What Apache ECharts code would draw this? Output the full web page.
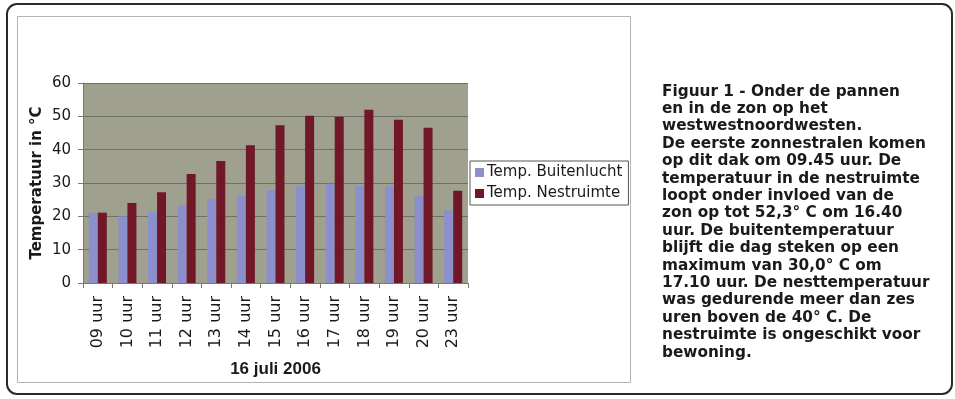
<!DOCTYPE html>
<html><head><meta charset="utf-8">
<script src="https://cdn.jsdelivr.net/npm/echarts@6/dist/echarts.min.js"></script>
<style>html,body{margin:0;padding:0;background:#fff}#c{width:955px;height:399px}</style>
</head><body><div id="c"></div>
<script>
const categories = ['09 uur','10 uur','11 uur','12 uur','13 uur','14 uur','15 uur','16 uur','17 uur','18 uur','19 uur','20 uur','23 uur'];
const buitenlucht = [21.1, 20.0, 21.4, 23.3, 25.3, 26.2, 27.8, 29.0, 29.8, 29.1, 29.0, 26.2, 21.8];
const nestruimte = [21.1, 24.0, 27.2, 32.7, 36.6, 41.3, 47.3, 50.2, 49.9, 52.0, 49.0, 46.6, 27.7];
const seriesNames = ['Temp. Buitenlucht', 'Temp. Nestruimte'];
const yTitle = 'Temperatuur in °C';
const xTitle = '16 juli 2006';
const noteLines = [
 'Figuur 1 - Onder de pannen',
 'en in de zon op het',
 'westwestnoordwesten.',
 'De eerste zonnestralen komen',
 'op dit dak om 09.45 uur. De',
 'temperatuur in de nestruimte',
 'loopt onder invloed van de',
 'zon op tot 52,3° C om 16.40',
 'uur. De buitentemperatuur',
 'blijft die dag steken op een',
 'maximum van 30,0° C om',
 '17.10 uur. De nesttemperatuur',
 'was gedurende meer dan zes',
 'uren boven de 40° C. De',
 'nestruimte is ongeschikt voor',
 'bewoning.'
];

const chart = echarts.init(document.getElementById('c'), null, {renderer:'canvas'});
const font = '"DejaVu Sans", sans-serif';
const fontL = '"Liberation Sans", Arial, sans-serif';
chart.setOption({
  animation:false,
  backgroundColor:'#fff',
  textStyle:{fontFamily:font},
  graphic:[
    {type:'rect', shape:{x:7,y:4,width:945,height:390,r:10}, style:{fill:'none',stroke:'#2a2a2a',lineWidth:2}, z:-1},
    {type:'rect', shape:{x:17.5,y:16.5,width:613,height:366}, style:{fill:'none',stroke:'#b5b5b0',lineWidth:1}, z:-1},
    {type:'text', left:662, top:83, style:{text:noteLines.join('\n'), font:'bold 15.3px "DejaVu Sans", sans-serif', lineHeight:17.4, fill:'#1a1a1a'}}
  ],
  grid:{left:83, top:83, width:385, height:200, show:true, backgroundColor:'#9fa18e', borderWidth:0},
  legend:{
    orient:'vertical', left:470, top:161,
    padding:[4,6,4,5], itemGap:6, itemWidth:9, itemHeight:9, icon:'rect',
    borderColor:'#555', borderWidth:1, backgroundColor:'#fff',
    textStyle:{fontSize:15, color:'#1a1a1a', fontFamily:font, padding:[0,0,0,-2]},
    data:seriesNames
  },
  xAxis:{
    type:'category', data:categories,
    name:xTitle, nameLocation:'middle', nameGap:78,
    nameTextStyle:{fontSize:17, fontWeight:'bold', color:'#1a1a1a', fontFamily:fontL},
    axisLine:{lineStyle:{color:'#777'}},
    axisTick:{show:true, length:5, lineStyle:{color:'#777'}},
    axisLabel:{rotate:90, fontSize:16, color:'#1a1a1a', margin:13}
  },
  yAxis:{
    type:'value', min:0, max:60, interval:10,
    name:yTitle, nameLocation:'middle', nameGap:38, nameRotate:90,
    nameTextStyle:{fontSize:15, fontWeight:'bold', color:'#1a1a1a'},
    axisLine:{show:true, lineStyle:{color:'#777'}},
    axisTick:{show:true, length:5, lineStyle:{color:'#777'}},
    axisLabel:{fontSize:15, color:'#1a1a1a', margin:12},
    splitLine:{show:true, lineStyle:{color:'#6f7262', width:1}}
  },
  series:[
    {name:seriesNames[0], type:'bar', data:buitenlucht, barWidth:9, barGap:'0%', itemStyle:{color:'#8b8fcc'}},
    {name:seriesNames[1], type:'bar', data:nestruimte, barWidth:9, itemStyle:{color:'#701828'}}
  ]
});
</script></body></html>
